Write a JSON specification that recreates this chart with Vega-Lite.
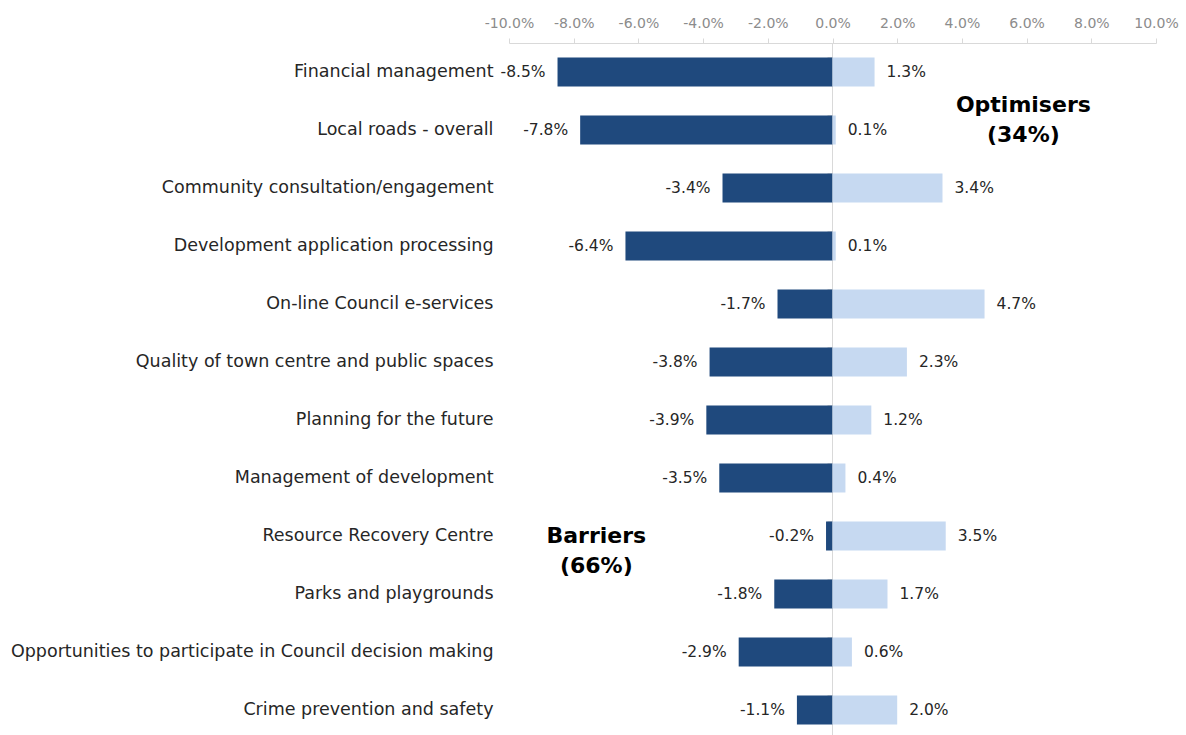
{
  "$schema": "https://vega.github.io/schema/vega-lite/v6.json",
  "width": 647,
  "height": 696,
  "autosize": {"type": "none"},
  "padding": {"left": 509, "top": 43, "right": 30, "bottom": 0},
  "background": "white",
  "config": {
    "font": "DejaVu Sans",
    "view": {"stroke": null}
  },
  "data": {
    "values": [
      {"category": "Financial management", "type": "Barriers", "value": -0.085},
      {"category": "Financial management", "type": "Optimisers", "value": 0.013},
      {"category": "Local roads - overall", "type": "Barriers", "value": -0.078},
      {"category": "Local roads - overall", "type": "Optimisers", "value": 0.001},
      {"category": "Community consultation/engagement", "type": "Barriers", "value": -0.034},
      {"category": "Community consultation/engagement", "type": "Optimisers", "value": 0.034},
      {"category": "Development application processing", "type": "Barriers", "value": -0.064},
      {"category": "Development application processing", "type": "Optimisers", "value": 0.001},
      {"category": "On-line Council e-services", "type": "Barriers", "value": -0.017},
      {"category": "On-line Council e-services", "type": "Optimisers", "value": 0.047},
      {"category": "Quality of town centre and public spaces", "type": "Barriers", "value": -0.038},
      {"category": "Quality of town centre and public spaces", "type": "Optimisers", "value": 0.023},
      {"category": "Planning for the future", "type": "Barriers", "value": -0.039},
      {"category": "Planning for the future", "type": "Optimisers", "value": 0.012},
      {"category": "Management of development", "type": "Barriers", "value": -0.035},
      {"category": "Management of development", "type": "Optimisers", "value": 0.004},
      {"category": "Resource Recovery Centre", "type": "Barriers", "value": -0.002},
      {"category": "Resource Recovery Centre", "type": "Optimisers", "value": 0.035},
      {"category": "Parks and playgrounds", "type": "Barriers", "value": -0.018},
      {"category": "Parks and playgrounds", "type": "Optimisers", "value": 0.017},
      {"category": "Opportunities to participate in Council decision making", "type": "Barriers", "value": -0.029},
      {"category": "Opportunities to participate in Council decision making", "type": "Optimisers", "value": 0.006},
      {"category": "Crime prevention and safety", "type": "Barriers", "value": -0.011},
      {"category": "Crime prevention and safety", "type": "Optimisers", "value": 0.020}
    ]
  },
  "transform": [
    {"calculate": "replace(format(datum.value, '.1%'), '\u2212', '-')", "as": "label"}
  ],
  "resolve": {"axis": {"y": "independent"}},
  "layer": [
    {
      "mark": {"type": "bar"},
      "encoding": {
        "y": {
          "field": "category", "type": "nominal", "sort": null,
          "scale": {"paddingInner": 0.5, "paddingOuter": 0.25},
          "axis": {"title": null, "ticks": false, "domain": false, "labelPadding": 16, "labelFontSize": 17.5, "labelColor": "#262626", "labelLimit": 600}
        },
        "x": {
          "field": "value", "type": "quantitative",
          "scale": {"domain": [-0.1, 0.1], "nice": false},
          "axis": {
            "orient": "top", "title": null, "values": [-0.1, -0.08, -0.06, -0.04, -0.02, 0, 0.02, 0.04, 0.06, 0.08, 0.1],
            "labelExpr": "replace(format(datum.value, '.1%'), '\u2212', '-')",
            "labelOverlap": false, "labelBound": false, "labelFlush": false,
            "grid": false, "domainColor": "#d9d9d9", "tickColor": "#d9d9d9", "tickSize": 5,
            "labelColor": "#8c8c8c", "labelFontSize": 14, "labelPadding": 8
          }
        },
        "color": {
          "field": "type", "type": "nominal",
          "scale": {"domain": ["Barriers", "Optimisers"], "range": ["#1F497D", "#C6D9F1"]},
          "legend": null
        }
      }
    },
    {
      "transform": [{"filter": "datum.value < 0"}],
      "mark": {"type": "text", "align": "right", "baseline": "middle", "dx": -12, "fontSize": 15.5, "color": "#262626"},
      "encoding": {
        "y": {"field": "category", "type": "nominal", "sort": null, "axis": null},
        "x": {"field": "value", "type": "quantitative"},
        "text": {"field": "label"}
      }
    },
    {
      "transform": [{"filter": "datum.value > 0"}],
      "mark": {"type": "text", "align": "left", "baseline": "middle", "dx": 12, "fontSize": 15.5, "color": "#262626"},
      "encoding": {
        "y": {
          "field": "category", "type": "nominal", "sort": null,
          "axis": {"orient": "left", "offset": -323, "labels": false, "title": null, "ticks": true, "tickSize": 5, "bandPosition": 0, "tickColor": "#d9d9d9", "domain": true, "domainColor": "#d9d9d9", "grid": false}
        },
        "x": {"field": "value", "type": "quantitative"},
        "text": {"field": "label"}
      }
    },
    {
      "data": {"values": [{}]},
      "mark": {"type": "text", "align": "center", "baseline": "middle", "dy": -25, "fontSize": 22, "fontWeight": "bold", "color": "#000000", "lineHeight": 30, "text": ["Optimisers", "(34%)"]},
      "encoding": {
        "y": {"datum": "Local roads - overall", "type": "nominal", "axis": null},
        "x": {"datum": 0.059, "type": "quantitative"}
      }
    },
    {
      "data": {"values": [{}]},
      "mark": {"type": "text", "align": "center", "baseline": "middle", "dy": 0, "fontSize": 22, "fontWeight": "bold", "color": "#000000", "lineHeight": 30, "text": ["Barriers", "(66%)"]},
      "encoding": {
        "y": {"datum": "Resource Recovery Centre", "type": "nominal", "axis": null},
        "x": {"datum": -0.073, "type": "quantitative"}
      }
    }
  ]
}
